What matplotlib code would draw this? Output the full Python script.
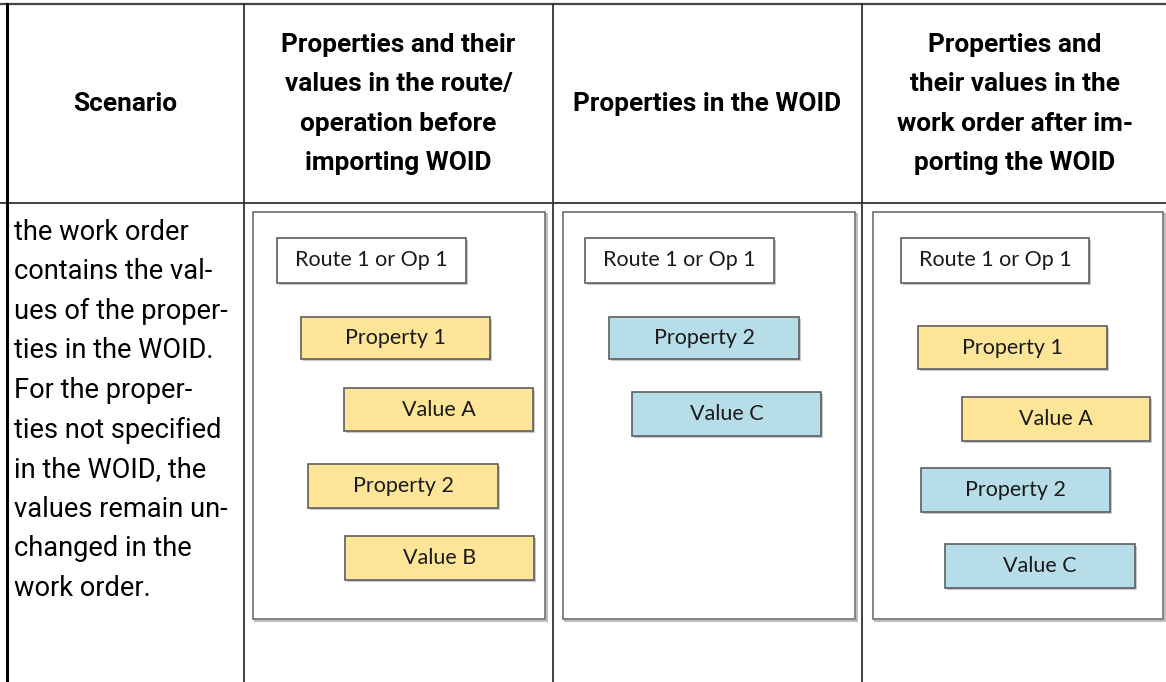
import matplotlib
matplotlib.use('Agg')
import matplotlib.pyplot as plt
from matplotlib.patches import Rectangle

# table text
headers = [
    ["Scenario"],
    ["Properties and their", "values in the route/", "operation before", "importing WOID"],
    ["Properties in the WOID"],
    ["Properties and", "their values in the", "work order after im-", "porting the WOID"],
]
scenario_lines = [
    "the work order", "contains the val-", "ues of the proper-", "ties in the WOID.",
    "For the proper-", "ties not specified", "in the WOID, the", "values remain un-",
    "changed in the", "work order.",
]

# diagram boxes per panel: label, kind
panel_before = [("Route 1 or Op 1", "route"), ("Property 1", "yellow"), ("Value A", "yellow"),
                ("Property 2", "yellow"), ("Value B", "yellow")]
panel_woid = [("Route 1 or Op 1", "route"), ("Property 2", "blue"), ("Value C", "blue")]
panel_after = [("Route 1 or Op 1", "route"), ("Property 1", "yellow"), ("Value A", "yellow"),
               ("Property 2", "blue"), ("Value C", "blue")]
panels = [panel_before, panel_woid, panel_after]

# layout (pixels)
col_x = [7, 244, 553, 862, 1172]
head_top, head_bot = 4, 203
frames = [(253, 545), (563, 855), (873, 1163)]
frame_top, frame_bot = 212, 619
box_pos = [
    [(277, 238, 466, 283), (301, 317, 490, 359), (344, 388, 533, 431), (308, 464, 498, 508), (345, 536, 534, 580)],
    [(585, 238, 774, 283), (609, 317, 799, 359), (632, 392, 821, 436)],
    [(901, 238, 1089, 283), (918, 326, 1107, 369), (962, 397, 1150, 441), (921, 468, 1110, 512), (945, 544, 1135, 588)],
]
fills = {"route": "#ffffff", "yellow": "#ffe597", "blue": "#b7dee8"}

W, H = 1166, 682
fig = plt.figure(figsize=(W / 100, H / 100), dpi=100)
ax = fig.add_axes([0, 0, 1, 1])
ax.set_xlim(0, W)
ax.set_ylim(H, 0)
ax.axis("off")

line_c = "#333333"
# table grid
ax.plot([0, W], [head_top, head_top], color="#444444", lw=1.6)
ax.plot([0, W], [head_bot, head_bot], color=line_c, lw=1.3)
ax.plot([col_x[0], col_x[0]], [head_top, H], color="#000000", lw=2.2)
for x in col_x[1:4]:
    ax.plot([x, x], [head_top, H], color=line_c, lw=1.3)

# header text
line_h = 39.6
for i, lines in enumerate(headers):
    cx = (col_x[i] + col_x[i + 1]) / 2
    if i == 3:
        cx = 1015
    y0 = 104 - line_h * (len(lines) - 1) / 2
    for j, t in enumerate(lines):
        ax.text(cx, y0 + j * line_h, t, ha="center", va="center", fontsize=18.9,
                fontweight="bold", family="Roboto", color="#000000")

# scenario text
for j, t in enumerate(scenario_lines):
    ax.text(14, 232 + j * line_h, t, ha="left", va="center", fontsize=19.6,
            family="Roboto", color="#000000")

# diagram panels
for (fx0, fx1), boxes, pos in zip(frames, panels, box_pos):
    ax.add_patch(Rectangle((fx0 + 1.5, frame_top + 1.5), fx1 - fx0, frame_bot - frame_top,
                           facecolor="none", edgecolor="#b0b0b0", lw=1.2))
    ax.add_patch(Rectangle((fx0, frame_top), fx1 - fx0, frame_bot - frame_top,
                           facecolor="white", edgecolor="#6e6e6e", lw=1.2))
    for (label, kind), (x0, y0, x1, y1) in zip(boxes, pos):
        ax.add_patch(Rectangle((x0 + 1.5, y0 + 1.5), x1 - x0, y1 - y0,
                               facecolor="#c8c8c8", edgecolor="none"))
        ax.add_patch(Rectangle((x0, y0), x1 - x0, y1 - y0, facecolor=fills[kind],
                               edgecolor="#5e5e5e", lw=1.2))
        ax.text((x0 + x1) / 2, (y0 + y1) / 2, label, ha="center", va="center",
                fontsize=15.5, family="Lato", color="#1a1a1a")

fig.savefig("out.png", dpi=100)
